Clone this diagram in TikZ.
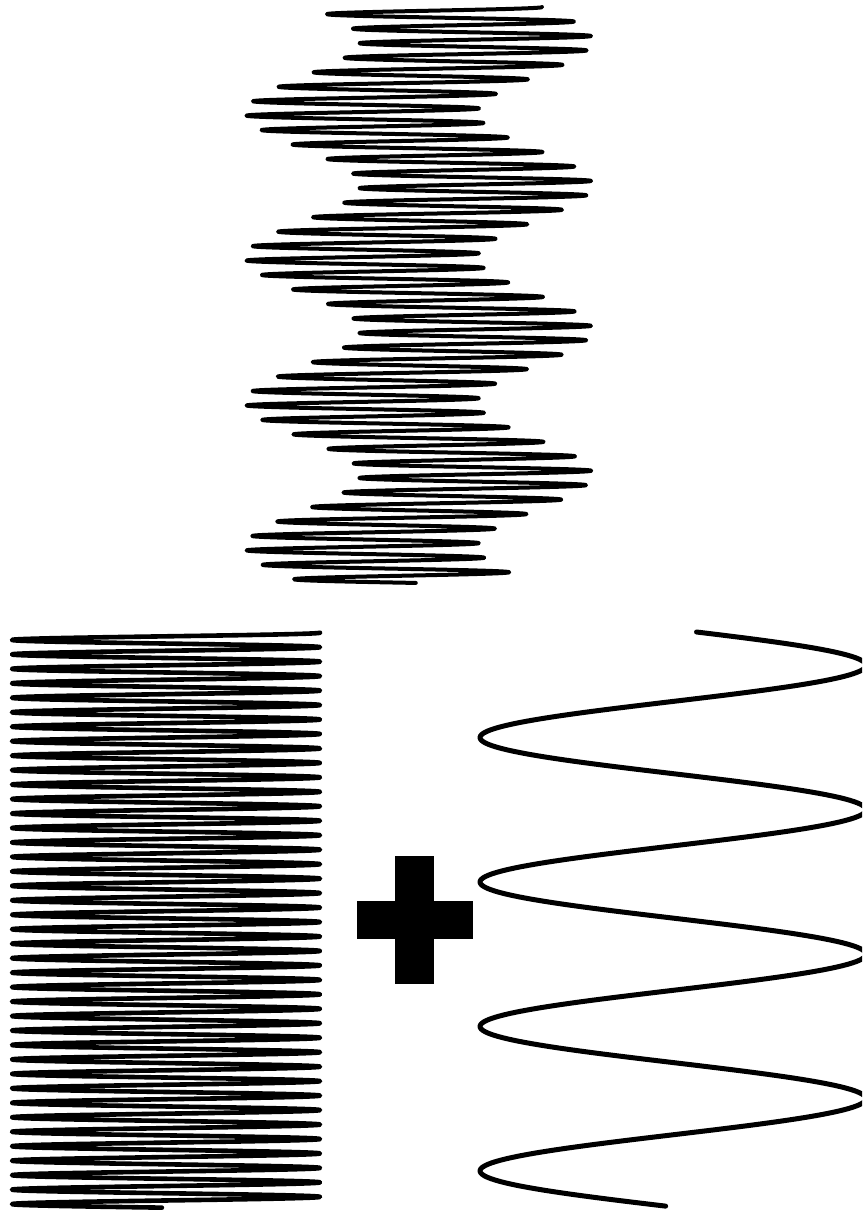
\documentclass[tikz,border=0pt]{standalone}
\begin{document}
\begin{tikzpicture}[x=1pt,y=-1pt,
  wave/.style={draw=black,line width=4pt,line cap=round,line join=round},
  fastwave/.style={draw=black,line width=4.6pt,line cap=round,line join=round},
  slowwave/.style={draw=black,line width=5pt,line cap=round,line join=round},
  plusbar/.style={fill=black,draw=none}]
\useasboundingbox (0,0) rectangle (862,1214);
\clip (0,0) rectangle (862,1214);
% top: sum of fast and slow wave
\draw[wave] plot[domain=0:1,samples=2401,variable=\s]
  ({419+116*cos(14310*\s)+57*sin(7+1433*\s)},{7+576*\s});
% bottom left: fast wave
\draw[fastwave] plot[domain=0:1,samples=2401,variable=\s]
  ({166+154*cos(14310*\s)},{632.7+575*\s});
% bottom right: slow wave
\draw[slowwave] plot[domain=0:1,samples=400,variable=\s]
  ({673+193*sin(7+1433*\s)},{632+575*\s});
% plus sign
\fill[plusbar] (395,856) rectangle (434,984);
\fill[plusbar] (357,901) rectangle (473,939);
\end{tikzpicture}
\end{document}
